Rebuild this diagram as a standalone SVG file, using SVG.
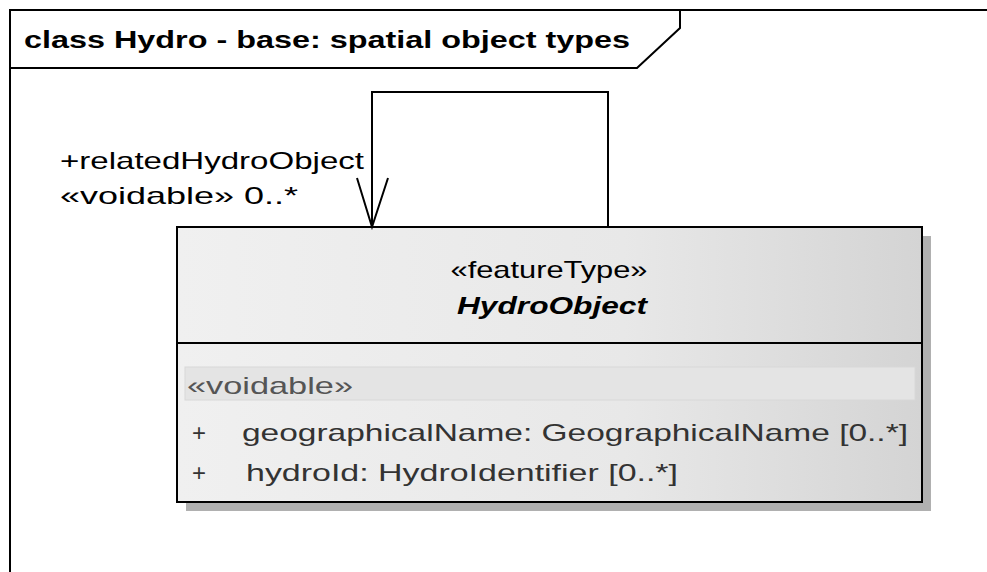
<svg xmlns="http://www.w3.org/2000/svg" width="987" height="572" viewBox="0 0 987 572">
<style>
text{font-family:"Liberation Sans",Arial,sans-serif;font-size:24px;}
.line{fill:none;stroke:#000;stroke-width:2;}
.title{font-weight:bold;font-size:23px;}
.lbl{fill:#000;}
.attr{fill:#333;}
</style>
<defs>
<linearGradient id="g" x1="0" y1="0" x2="1" y2="0">
<stop offset="0" stop-color="#f0f0f0"/>
<stop offset="0.6" stop-color="#e8e8e8"/>
<stop offset="1" stop-color="#d4d4d4"/>
</linearGradient>
</defs>
<rect width="987" height="572" fill="#fff"/>
<g id="frame">
<path class="line" d="M10,572 V10 H987"/>
<path class="line" d="M10,68 H637 L680,28 V10"/>
<text class="title" x="24" y="48" textLength="606" lengthAdjust="spacingAndGlyphs">class Hydro - base: spatial object types</text>
</g>
<g id="HydroObject">
<rect x="186" y="236" width="745" height="275" fill="#b0b0b0"/>
<rect x="177" y="227" width="745" height="275" fill="url(#g)" stroke="#000" stroke-width="2"/>
<line x1="177" y1="343" x2="922" y2="343" stroke="#000" stroke-width="2"/>
<rect x="185" y="367" width="730" height="33" fill="#e4e4e4" stroke="#d8d8d8" stroke-width="1"/>
<text x="549" y="278" text-anchor="middle" textLength="197" lengthAdjust="spacingAndGlyphs">«featureType»</text>
<text x="552" y="314" text-anchor="middle" font-weight="bold" font-style="italic" textLength="190" lengthAdjust="spacingAndGlyphs">HydroObject</text>
<text x="187" y="394" fill="#555" textLength="166" lengthAdjust="spacingAndGlyphs">«voidable»</text>
<text class="attr" x="192" y="441">+</text>
<text class="attr" x="242" y="441" textLength="666" lengthAdjust="spacingAndGlyphs">geographicalName:  GeographicalName [0..*]</text>
<text class="attr" x="192" y="481">+</text>
<text class="attr" x="246" y="481" textLength="432" lengthAdjust="spacingAndGlyphs">hydroId:  HydroIdentifier [0..*]</text>
</g>
<g id="connectors">
<path class="line" d="M372,227 V92 H608 V227"/>
<path class="line" d="M357,178 L372,227 L388,178"/>
<text class="lbl" x="60" y="169" textLength="304" lengthAdjust="spacingAndGlyphs">+relatedHydroObject</text>
<text class="lbl" x="60" y="204" textLength="238" lengthAdjust="spacingAndGlyphs">«voidable» 0..*</text>
</g>
</svg>
